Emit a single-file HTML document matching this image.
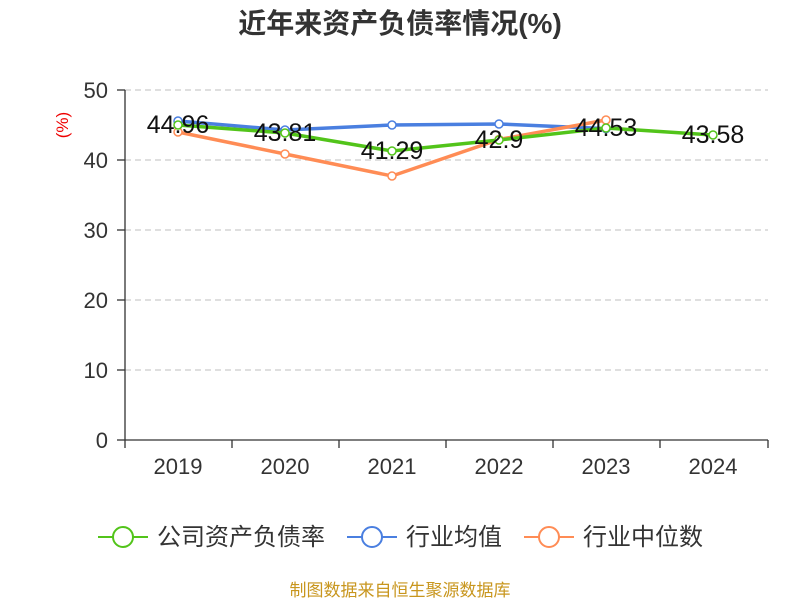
<!DOCTYPE html>
<html><head><meta charset="utf-8"><style>body{margin:0;background:#fff}svg{display:block}</style></head><body>
<svg width="800" height="600" xmlns="http://www.w3.org/2000/svg" font-family="Liberation Sans, Noto Sans CJK SC, sans-serif">
<text x="400" y="33" text-anchor="middle" font-size="28" font-weight="bold" fill="#333">近年来资产负债率情况(%)</text>
<text x="68" y="125" text-anchor="middle" font-size="17" fill="#e00" transform="rotate(-90 68 125)">(%)</text>
<g stroke="#ccc" stroke-dasharray="6,4" stroke-width="1.3">
<line x1="125" x2="768" y1="90" y2="90"/><line x1="125" x2="768" y1="160" y2="160"/><line x1="125" x2="768" y1="230" y2="230"/><line x1="125" x2="768" y1="300" y2="300"/><line x1="125" x2="768" y1="370" y2="370"/></g>
<g stroke="#333" stroke-width="1.3">
<line x1="125" x2="125" y1="90" y2="440"/><line x1="125" x2="768" y1="440" y2="440"/>
<line x1="117" x2="125" y1="90" y2="90"/><line x1="117" x2="125" y1="160" y2="160"/><line x1="117" x2="125" y1="230" y2="230"/><line x1="117" x2="125" y1="300" y2="300"/><line x1="117" x2="125" y1="370" y2="370"/><line x1="117" x2="125" y1="440" y2="440"/>
<line x1="125" x2="125" y1="440" y2="448"/><line x1="232" x2="232" y1="440" y2="448"/><line x1="339" x2="339" y1="440" y2="448"/><line x1="446" x2="446" y1="440" y2="448"/><line x1="553" x2="553" y1="440" y2="448"/><line x1="660" x2="660" y1="440" y2="448"/><line x1="768" x2="768" y1="440" y2="448"/></g>
<g font-size="22" fill="#333" text-anchor="end">
<text x="108" y="98">50</text><text x="108" y="168">40</text><text x="108" y="238">30</text><text x="108" y="308">20</text><text x="108" y="378">10</text><text x="108" y="448">0</text></g>
<g font-size="22" fill="#333" text-anchor="middle">
<text x="178" y="474">2019</text><text x="285" y="474">2020</text><text x="392" y="474">2021</text><text x="499" y="474">2022</text><text x="606" y="474">2023</text><text x="713" y="474">2024</text></g>
<g fill="#fff" stroke-width="3.5">
<polyline fill="none" stroke="#4a7fe0" points="178,121 285,130 392,125 499,124 606,128.6"/>
<polyline fill="none" stroke="#ff8c55" points="178,132 285,154 392,176 499,139.5 606,120"/>
<polyline fill="none" stroke="#52c41a" points="178,125 285,133 392,151 499,140 606,128 713,135"/>
</g>
<g fill="#fff" stroke-width="1.5">
<g stroke="#4a7fe0"><circle cx="178" cy="121" r="4"/><circle cx="285" cy="130" r="4"/><circle cx="392" cy="125" r="4"/><circle cx="499" cy="124" r="4"/><circle cx="606" cy="128.6" r="4"/></g>
<g stroke="#ff8c55"><circle cx="178" cy="132" r="4"/><circle cx="285" cy="154" r="4"/><circle cx="392" cy="176" r="4"/><circle cx="499" cy="139.5" r="4"/><circle cx="606" cy="120" r="4"/></g>
<g stroke="#52c41a"><circle cx="178" cy="125" r="4"/><circle cx="285" cy="133" r="4"/><circle cx="392" cy="151" r="4"/><circle cx="499" cy="140" r="4"/><circle cx="606" cy="128" r="4"/><circle cx="713" cy="135" r="4"/></g>
</g>
<g font-size="25" fill="#111" text-anchor="middle">
<text x="178" y="133">44.96</text><text x="285" y="141">43.81</text><text x="392" y="159">41.29</text><text x="499" y="148">42.9</text><text x="606" y="136">44.53</text><text x="713" y="143">43.58</text></g>
<g stroke-width="2" fill="#fff">
<line x1="98" x2="148" y1="537" y2="537" stroke="#52c41a"/><circle cx="123" cy="537" r="10" stroke="#52c41a"/>
<line x1="347" x2="397" y1="537" y2="537" stroke="#4a7fe0"/><circle cx="372" cy="537" r="10" stroke="#4a7fe0"/>
<line x1="524" x2="574" y1="537" y2="537" stroke="#ff8c55"/><circle cx="549" cy="537" r="10" stroke="#ff8c55"/></g>
<g font-size="24" fill="#333">
<text x="157" y="545">公司资产负债率</text><text x="406" y="545">行业均值</text><text x="583" y="545">行业中位数</text></g>
<text x="400" y="596" text-anchor="middle" font-size="17" fill="#c8961e">制图数据来自恒生聚源数据库</text>
</svg>
</body></html>
